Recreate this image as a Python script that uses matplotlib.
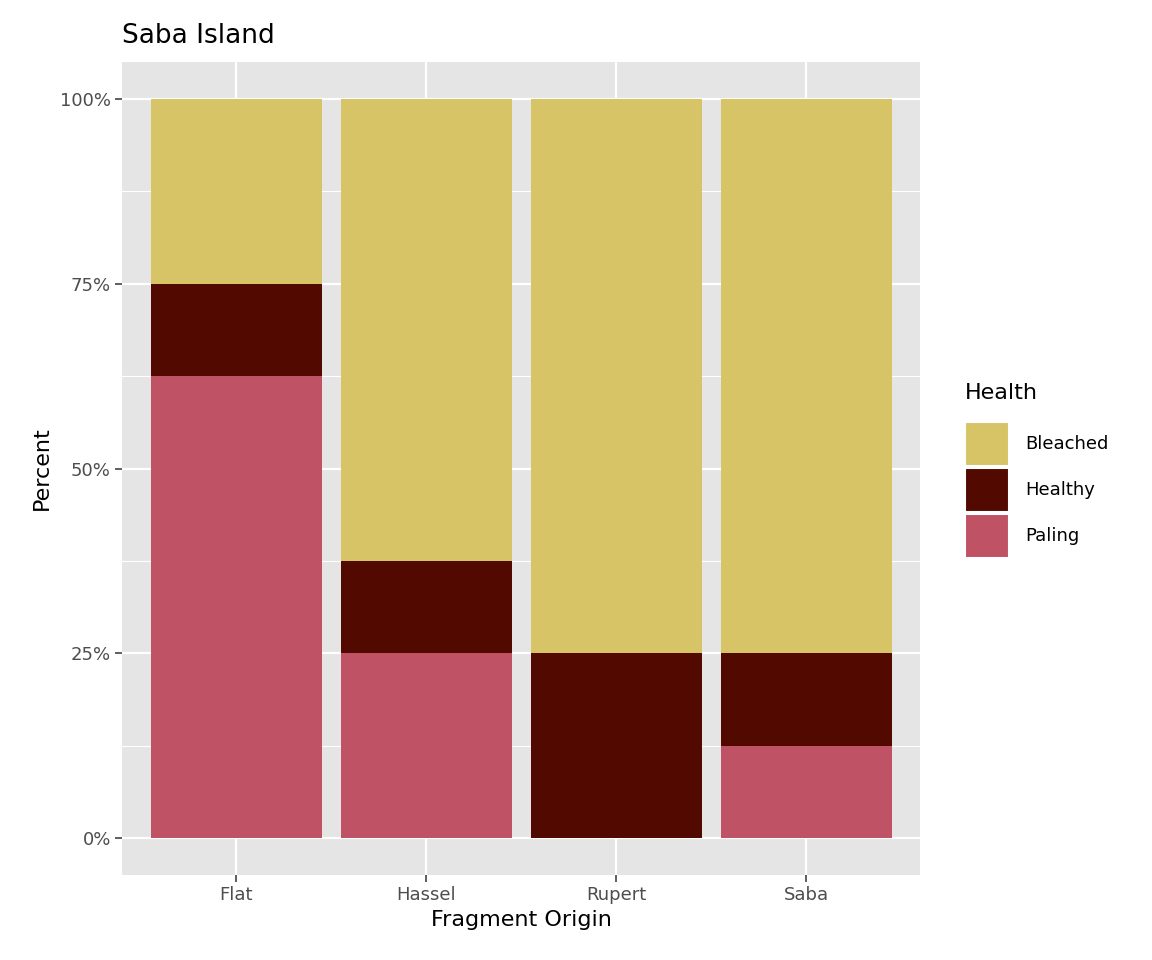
import matplotlib
matplotlib.use("Agg")
import matplotlib.pyplot as plt
from matplotlib.patches import Rectangle
from matplotlib.ticker import FixedLocator

sites = ["Flat", "Hassel", "Rupert", "Saba"]
paling = [62.5, 25.0, 0.0, 12.5]
healthy = [12.5, 12.5, 25.0, 12.5]
bleached = [25.0, 62.5, 75.0, 75.0]
health_levels = ["Bleached", "Healthy", "Paling"]
colors = {"Bleached": "#D7C466", "Healthy": "#520A00", "Paling": "#C05265"}

fig = plt.figure(figsize=(11.52, 9.6), dpi=100)
ax = fig.add_axes([122/1152, 85/960, 798/1152, 813/960])
ax.set_facecolor("#E5E5E5")
x = range(1, len(sites) + 1)
ax.bar(x, paling, width=0.9, color=colors["Paling"], zorder=2)
ax.bar(x, healthy, width=0.9, bottom=paling, color=colors["Healthy"], zorder=2)
bot2 = [p + h for p, h in zip(paling, healthy)]
ax.bar(x, bleached, width=0.9, bottom=bot2, color=colors["Bleached"], zorder=2)

ax.set_xlim(0.4, 4.6)
ax.set_ylim(-5, 105)
ax.set_xticks(list(x))
ax.set_xticklabels(sites)
ax.set_yticks([0, 25, 50, 75, 100])
ax.set_yticklabels(["0%", "25%", "50%", "75%", "100%"])
ax.yaxis.set_minor_locator(FixedLocator([12.5, 37.5, 62.5, 87.5]))
ax.grid(which="major", color="white", linewidth=1.6, zorder=0)
ax.grid(which="minor", axis="y", color="white", linewidth=0.8, zorder=0)
ax.tick_params(which="major", length=5, color="#333333", width=1.1,
               labelsize=13, labelcolor="#4D4D4D", pad=3)
ax.tick_params(which="minor", length=0)
for s in ax.spines.values():
    s.set_visible(False)
ax.set_xlabel("Fragment Origin", fontsize=16, labelpad=4)
ax.set_ylabel("Percent", fontsize=16, labelpad=6)
ax.set_title("Saba Island", fontsize=19, loc="left", x=0, pad=14)

# legend
fig.text(965/1152, 1 - 393/960, "Health", fontsize=16, va="center", ha="left")
for i, lvl in enumerate(health_levels):
    y0 = 1 - (422 + 46*i + 44) / 960
    fig.patches.append(Rectangle((965/1152, y0), 44/1152, 44/960,
                                 transform=fig.transFigure,
                                 facecolor=colors[lvl], edgecolor="white",
                                 linewidth=1.5))
    fig.text(1025/1152, y0 + 22/960, lvl, fontsize=13, va="center", ha="left")

fig.savefig("out.png", dpi=100)
